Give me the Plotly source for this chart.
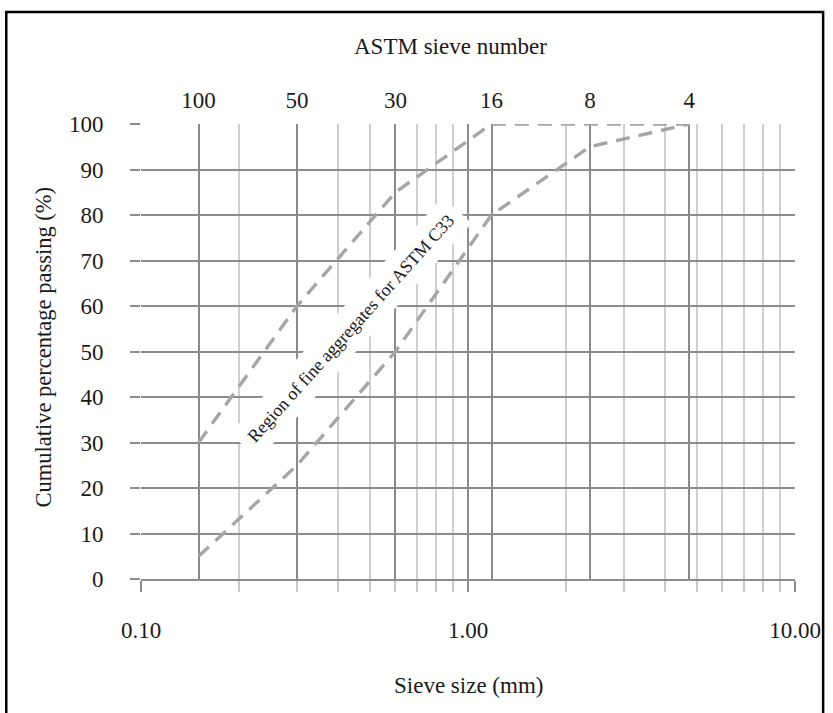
import plotly.graph_objects as go

# Sieve sizes (mm) and ASTM sieve numbers
sieve_size = [0.15, 0.3, 0.6, 1.18, 2.36, 4.75]
sieve_number = ["100", "50", "30", "16", "8", "4"]

# ASTM C33 limits (cumulative % passing)
upper_limit = [30, 60, 85, 100, 100, 100]
lower_limit = [5, 25, 50, 80, 95, 100]

major_x = [0.1, 1, 10]
major_x_text = ["0.10", "1.00", "10.00"]
minor_x = [0.2, 0.3, 0.4, 0.5, 0.6, 0.7, 0.8, 0.9, 2, 3, 4, 5, 6, 7, 8, 9]
y_ticks = list(range(0, 101, 10))

FONT = "Liberation Serif, Times New Roman, serif"
LINE_COLOR = "#a6a6a6"

fig = go.Figure()

fig.add_trace(go.Scatter(
    x=sieve_size, y=upper_limit, mode="lines",
    line=dict(color=LINE_COLOR, width=3.4, dash="14px,9px"),
    showlegend=False, hoverinfo="skip"))
fig.add_trace(go.Scatter(
    x=sieve_size, y=lower_limit, mode="lines",
    line=dict(color=LINE_COLOR, width=3.4, dash="14px,9px"),
    showlegend=False, hoverinfo="skip"))
# invisible trace to activate the top (sieve number) axis
fig.add_trace(go.Scatter(
    x=sieve_size, y=upper_limit, mode="lines", xaxis="x2",
    line=dict(color="rgba(0,0,0,0)", width=0),
    showlegend=False, hoverinfo="skip"))

fig.update_layout(
    width=833, height=713,
    margin=dict(l=141, r=32, t=124, b=134),
    paper_bgcolor="white", plot_bgcolor="white",
    font=dict(family=FONT, size=23, color="#1a1a1a"),
    xaxis=dict(
        type="log", range=[-1, 1],
        tickmode="array", tickvals=major_x, ticktext=major_x_text,
        ticks="outside", ticklen=11, tickcolor="#8c8c8c", tickwidth=1.5,
        showgrid=True, gridcolor="#8c8c8c", gridwidth=1.5,
        showline=True, linecolor="#8c8c8c", linewidth=2,
        zeroline=False, ticklabelstandoff=18,
        minor=dict(tickmode="array", tickvals=minor_x, ticks="outside",
                   ticklen=11, tickcolor="#c8c8c8", tickwidth=1.5,
                   showgrid=True, gridcolor="#cfcfcf", gridwidth=1.5),
    ),
    xaxis2=dict(
        type="log", range=[-1, 1], overlaying="x", side="top",
        tickmode="array", tickvals=sieve_size, ticktext=sieve_number,
        ticks="", showgrid=True, gridcolor="#8a8a8a", gridwidth=1.6,
        showline=False, zeroline=False, ticklabelstandoff=10,
    ),
    yaxis=dict(
        range=[0, 100], tickmode="array", tickvals=y_ticks,
        ticks="outside", ticklen=10, tickcolor="#8c8c8c", tickwidth=1.5,
        showgrid=True, gridcolor="#8c8c8c", gridwidth=1.5,
        showline=False, zeroline=False, ticklabelstandoff=22,
    ),
    annotations=[
        dict(text="Region of fine aggregates for ASTM C33",
             xref="paper", yref="paper", x=0.321, y=0.552,
             xanchor="center", yanchor="middle",
             textangle=-48, showarrow=False,
             font=dict(family=FONT, size=18, color="#1a1a1a"),
             bgcolor="white", borderpad=9),
        dict(text="ASTM sieve number", xref="paper", yref="paper",
             x=0.474, y=1.171, xanchor="center", yanchor="middle",
             showarrow=False,
             font=dict(family=FONT, size=23, color="#1a1a1a")),
        dict(text="Sieve size (mm)", xref="paper", yref="paper",
             x=0.5, y=-0.233, xanchor="center", yanchor="middle",
             showarrow=False,
             font=dict(family=FONT, size=23, color="#1a1a1a")),
        dict(text="Cumulative percentage passing (%)", xref="paper", yref="paper",
             x=-0.149, y=0.51, xanchor="center", yanchor="middle",
             showarrow=False, textangle=-90,
             font=dict(family=FONT, size=22.5, color="#1a1a1a")),
    ],
    shapes=[
        dict(type="rect", xref="paper", yref="paper",
             x0=-0.206, x1=1.043, y0=-0.5, y1=1.246,
             line=dict(color="black", width=2.5), fillcolor="rgba(0,0,0,0)",
             layer="above"),
    ],
)

fig.write_html("out.html")
